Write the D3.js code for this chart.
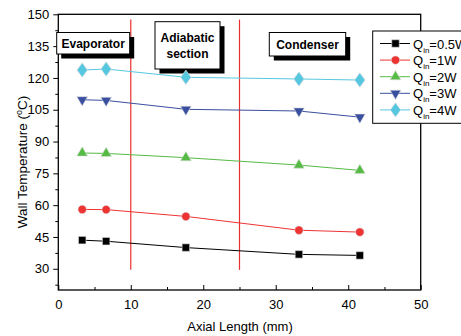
<!DOCTYPE html>
<html><head><meta charset="utf-8">
<script src="https://cdn.jsdelivr.net/npm/d3@7"></script>
<style>body{margin:0;background:#fff}svg{display:block;font-family:"Liberation Sans",Arial,sans-serif}</style>
</head><body>
<svg id="c" width="461" height="336"></svg>
<script>
const xPos = [3.3, 6.6, 17.6, 33.2, 41.6];
const seriesNames = ["0.5W", "1W", "2W", "3W", "4W"];
const q05 = [43.5, 43.0, 40.0, 36.8, 36.3];
const q1 = [58.0, 57.9, 54.7, 48.2, 47.3];
const q2 = [84.6, 84.4, 82.4, 78.9, 76.4];
const q3 = [109.7, 109.4, 105.2, 104.4, 101.5];
const q4 = [123.7, 124.2, 120.3, 119.5, 119.0];
const colors = ["#000000", "#ee3333", "#55bb44", "#3a4fa0", "#55c8e0"];
const shapes = ["square", "circle", "up", "down", "diamond"];
const yTicks = [30, 45, 60, 75, 90, 105, 120, 135, 150];
const xTicks = [0, 10, 20, 30, 40, 50];
const regions = ["Evaporator", "Adiabatic|section", "Condenser"];
const dividers = [10, 25];

const svg = d3.select("#c");
const L = 58.3, R = 420.7, T = 14.3, B = 290;
const x = d3.scaleLinear().domain([0, 50]).range([L, R]);
const y = d3.scaleLinear().domain([20, 150]).range([B, T]);
const allSeries = [q05, q1, q2, q3, q4];

// frame
svg.append("rect").attr("x", L).attr("y", T).attr("width", R - L).attr("height", B - T)
  .attr("fill", "none").attr("stroke", "#000").attr("stroke-width", 1.3);

// y axis
const yAx = svg.append("g").attr("transform", `translate(${L},0)`)
  .call(d3.axisLeft(y).tickValues(yTicks).tickSize(5).tickPadding(4));
yAx.select(".domain").remove();
yAx.selectAll("text").attr("font-size", 13).attr("fill", "#000").attr("font-family", "Liberation Sans, Arial");
svg.append("g").attr("transform", `translate(${L},0)`)
  .call(d3.axisLeft(y).tickValues(d3.range(22.5, 150, 15)).tickSize(3).tickFormat(""))
  .select(".domain").remove();

// x axis (ticks inward)
const xAx = svg.append("g").attr("transform", `translate(0,${B})`)
  .call(d3.axisBottom(x).tickValues(xTicks).tickSize(-5).tickPadding(10));
xAx.select(".domain").remove();
xAx.selectAll("text").attr("font-size", 13).attr("fill", "#000").attr("font-family", "Liberation Sans, Arial");
svg.append("g").attr("transform", `translate(0,${B})`)
  .call(d3.axisBottom(x).tickValues([5, 15, 25, 35, 45]).tickSize(-3).tickFormat(""))
  .select(".domain").remove();

// axis titles
svg.append("text").attr("x", 240).attr("y", 331).attr("text-anchor", "middle")
  .attr("font-size", 13).text("Axial Length (mm)");
const yt = svg.append("text").attr("transform", "translate(26.5,162) rotate(-90)")
  .attr("text-anchor", "middle").attr("font-size", 13.5);
yt.append("tspan").text("Wall Temperature (");
yt.append("tspan").attr("font-size", 9).attr("dy", -5).text("o");
yt.append("tspan").attr("dy", 5).text("C)");

// dividers
dividers.forEach(d => {
  svg.append("line").attr("x1", x(d)).attr("x2", x(d)).attr("y1", y(147.5)).attr("y2", y(29.5))
    .attr("stroke", "#e83030").attr("stroke-width", 1.2);
});

// region labels
const boxes = [
  {x0: 56.7, y0: 32.5, w: 73, h: 21.5},
  {x0: 155, y0: 21.7, w: 65, h: 47.3},
  {x0: 269.3, y0: 32.5, w: 76.4, h: 23.5}
];
regions.forEach((r, i) => {
  const b = boxes[i];
  svg.append("rect").attr("x", b.x0 + 4.5).attr("y", b.y0 + 4.5).attr("width", b.w).attr("height", b.h).attr("fill", "#000");
  svg.append("rect").attr("x", b.x0).attr("y", b.y0).attr("width", b.w).attr("height", b.h)
    .attr("fill", "#fff").attr("stroke", "#000").attr("stroke-width", 1);
  const lines = r.split("|");
  lines.forEach((ln, j) => {
    svg.append("text").attr("x", b.x0 + b.w / 2)
      .attr("y", b.y0 + b.h / 2 + 4.5 + (j - (lines.length - 1) / 2) * 16)
      .attr("text-anchor", "middle").attr("font-size", 12).attr("font-weight", "bold").text(ln);
  });
});

function marker(g, shape, cx, cy, col) {
  let s;
  if (shape === "square") s = d3.symbol(d3.symbolSquare, 56);
  else if (shape === "circle") s = d3.symbol(d3.symbolCircle, 56);
  else if (shape === "up") s = d3.symbol(d3.symbolTriangle, 50);
  else if (shape === "down") s = d3.symbol(d3.symbolTriangle, 50);
  else s = d3.symbol(d3.symbolDiamond, 60);
  const p = g.append("path").attr("d", s()).attr("fill", col)
    .attr("stroke", "#ddd").attr("stroke-width", 0.6);
  if (shape === "down") p.attr("transform", `translate(${cx},${cy}) rotate(180)`);
  else if (shape === "diamond") p.attr("transform", `translate(${cx},${cy}) scale(1.25,1)`);
  else p.attr("transform", `translate(${cx},${cy})`);
}

const line = d3.line().x((d, i) => x(xPos[i])).y(d => y(d));
allSeries.forEach((s, k) => {
  svg.append("path").attr("d", line(s)).attr("fill", "none").attr("stroke", colors[k]).attr("stroke-width", 1);
  const g = svg.append("g");
  s.forEach((v, i) => marker(g, shapes[k], x(xPos[i]), y(v), colors[k]));
});

// legend
const lg = svg.append("g");
lg.append("rect").attr("x", 372.7).attr("y", 31).attr("width", 100).attr("height", 92.3)
  .attr("fill", "#fff").attr("stroke", "#000").attr("stroke-width", 1);
seriesNames.forEach((n, k) => {
  const yy = 43.5 + k * 16.6;
  lg.append("line").attr("x1", 380).attr("x2", 410).attr("y1", yy).attr("y2", yy)
    .attr("stroke", colors[k]).attr("stroke-width", 1);
  marker(lg, shapes[k], 395.5, yy, colors[k]);
  const t = lg.append("text").attr("x", 413).attr("y", yy + 5).attr("font-size", 13);
  t.append("tspan").text("Q");
  t.append("tspan").attr("font-size", 8).attr("dy", 4).text("in");
  t.append("tspan").attr("dy", -4).text("=" + n);
});
</script>
</body></html>
